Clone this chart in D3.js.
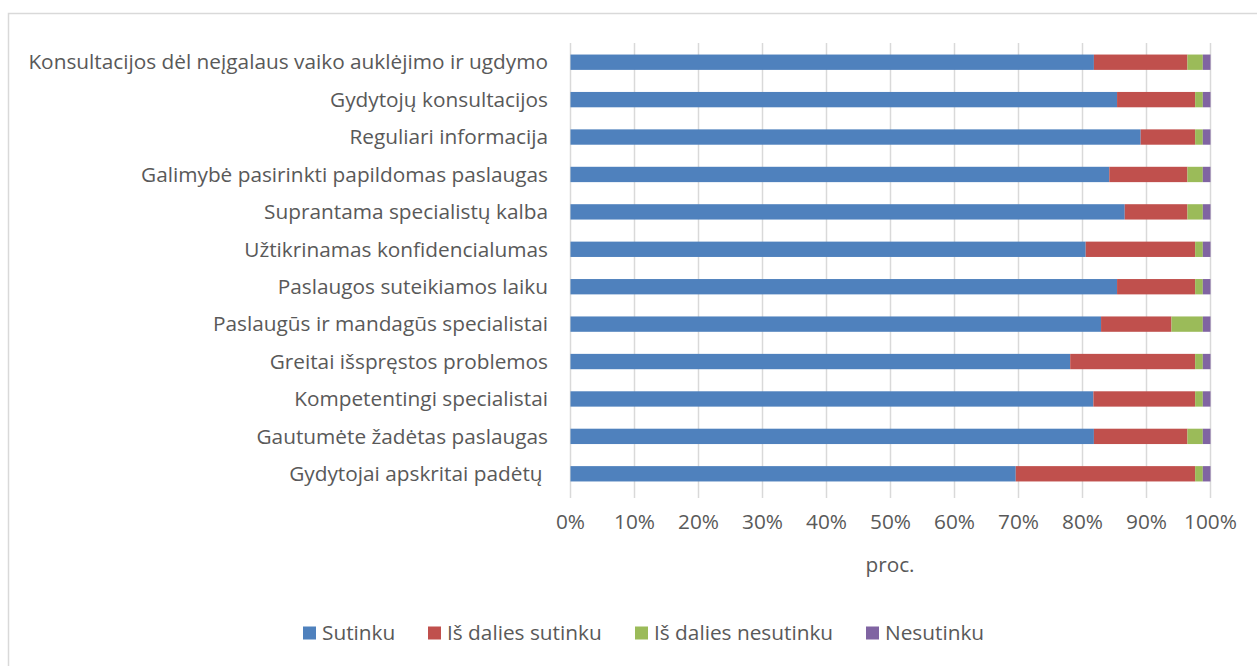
<!DOCTYPE html>
<html><head><meta charset="utf-8">
<script src="https://cdn.jsdelivr.net/npm/d3@7"></script>
<style>
body{margin:0;background:#fff;}
text{font-family:"Open Sans",sans-serif;fill:#595959;}
</style></head>
<body><svg id="c" width="1257" height="666"></svg>
<script>
const categories = [
  "Konsultacijos dėl neįgalaus vaiko auklėjimo ir ugdymo",
  "Gydytojų konsultacijos",
  "Reguliari informacija",
  "Galimybė pasirinkti papildomas paslaugas",
  "Suprantama specialistų kalba",
  "Užtikrinamas konfidencialumas",
  "Paslaugos suteikiamos laiku",
  "Paslaugūs ir mandagūs specialistai",
  "Greitai išspręstos problemos",
  "Kompetentingi specialistai",
  "Gautumėte žadėtas paslaugas",
  "Gydytojai apskritai padėtų "
];
const seriesNames = ["Sutinku", "Iš dalies sutinku", "Iš dalies nesutinku", "Nesutinku"];
const sutinku        = [81.7, 85.4, 89.0, 84.1, 86.6, 80.5, 85.4, 82.9, 78.0, 81.7, 81.7, 69.5];
const isDaliesSut    = [14.6, 12.2,  8.5, 12.2,  9.8, 17.1, 12.2, 11.0, 19.5, 15.9, 14.6, 28.0];
const isDaliesNesut  = [ 2.4,  1.2,  1.2,  2.4,  2.4,  1.2,  1.2,  4.9,  1.2,  1.2,  2.4,  1.2];
const nesutinku      = [ 1.2,  1.2,  1.2,  1.2,  1.2,  1.2,  1.2,  1.2,  1.2,  1.2,  1.2,  1.2];
const tickValues = [0,10,20,30,40,50,60,70,80,90,100];
const colors = ["#4f81bd", "#c0504d", "#9bbb59", "#8064a2"];

const rows = categories.map((c,i)=>({cat:c, Sutinku:sutinku[i], "Iš dalies sutinku":isDaliesSut[i],
  "Iš dalies nesutinku":isDaliesNesut[i], Nesutinku:nesutinku[i]}));
rows.forEach(r=>{const t=seriesNames.reduce((s,k)=>s+r[k],0); seriesNames.forEach(k=>r[k]=r[k]/t*100);});
const stack = d3.stack().keys(seriesNames)(rows);

const FS = "20.8px";
const svg = d3.select("#c");
svg.append("rect").attr("x",8.5).attr("y",13.5).attr("width",1300).attr("height",800)
  .attr("fill","none").attr("stroke","#d9d9d9").attr("stroke-width",1.5);

const x = d3.scaleLinear().domain([0,100]).range([570.5,1210.5]);
const y = d3.scaleBand().domain(categories).range([43.5,492.5]).paddingInner(0.59).paddingOuter(0.295);

// grid
svg.append("g").selectAll("line").data(tickValues).join("line")
  .attr("x1",d=>x(d)).attr("x2",d=>x(d)).attr("y1",43).attr("y2",498)
  .attr("stroke","#d9d9d9").attr("stroke-width",1.5);

// bars
svg.append("g").selectAll("g").data(stack).join("g").attr("fill",(d,i)=>colors[i])
  .selectAll("rect").data(d=>d).join("rect")
  .attr("x",d=>x(d[0])).attr("width",d=>x(d[1])-x(d[0]))
  .attr("y",d=>y(d.data.cat)).attr("height",y.bandwidth());

// category labels
svg.append("g").selectAll("text").data(categories).join("text")
  .attr("x",548).attr("y",d=>y(d)+y.bandwidth()/2).attr("dy","0.35em")
  .attr("text-anchor","end").style("font-size",FS).style("white-space","pre").text(d=>d);

// x tick labels
svg.append("g").selectAll("text").data(tickValues).join("text")
  .attr("x",d=>x(d)).attr("y",522).attr("dy","0.35em").attr("text-anchor","middle")
  .style("font-size",FS).text(d=>d+"%");

svg.append("text").attr("x",890).attr("y",565).attr("dy","0.35em").attr("text-anchor","middle")
  .style("font-size",FS).text("proc.");

// legend
const legX = [303, 428, 635, 866];
const lg = svg.append("g").selectAll("g").data(seriesNames).join("g")
  .attr("transform",(d,i)=>`translate(${legX[i]},633)`);
lg.append("rect").attr("x",0).attr("y",-6.5).attr("width",13).attr("height",13).attr("fill",(d,i)=>colors[i]);
lg.append("text").attr("x",19).attr("y",0).attr("dy","0.35em").style("font-size",FS).text(d=>d);
</script></body></html>
